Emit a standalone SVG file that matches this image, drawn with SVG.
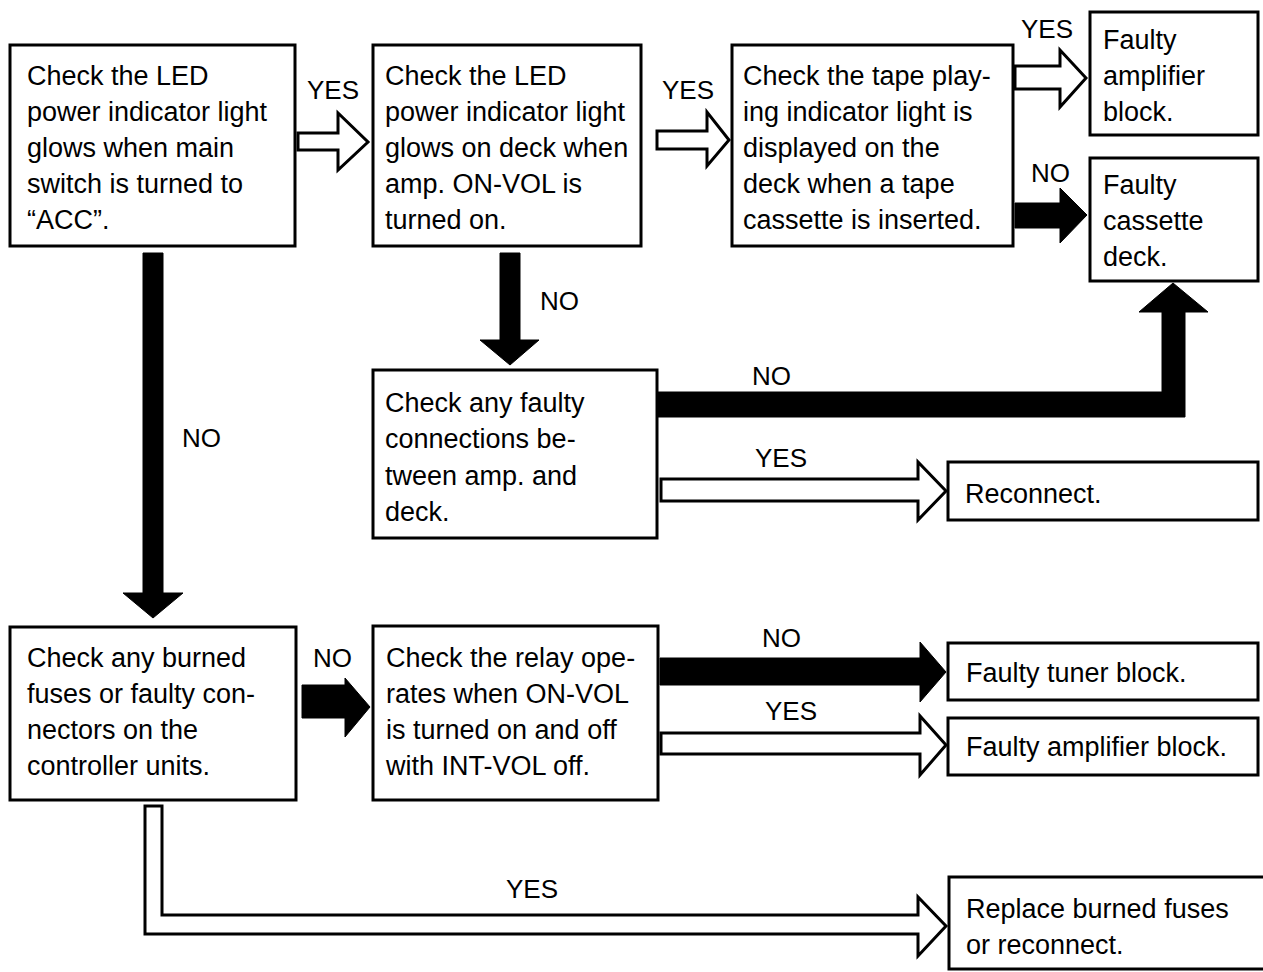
<svg xmlns="http://www.w3.org/2000/svg" width="1263" height="972" viewBox="0 0 1263 972">
<style>
.box{fill:#fff;stroke:#000;stroke-width:3}
.t{font-family:"Liberation Sans",Arial,sans-serif;font-size:27px;fill:#000}
.lbl{font-family:"Liberation Sans",Arial,sans-serif;font-size:26px;fill:#000}
.hollow{fill:#fff;stroke:#000;stroke-width:3;stroke-linejoin:miter}
.solid{fill:#000;stroke:#000;stroke-width:1}
</style>
<rect width="1263" height="972" fill="#fff"/>
<g id="connectors">
<polygon class="hollow" points="298,133 338,133 338,113 368,142 338,170 338,150 298,150"/>
<text class="lbl" x="307" y="99">YES</text>
<polygon class="hollow" points="657,131 707,131 707,112 729,140 707,166 707,149 657,149"/>
<text class="lbl" x="662" y="99">YES</text>
<polygon class="hollow" points="1015,66 1060,66 1060,50 1086,78 1060,107 1060,89 1015,89"/>
<text class="lbl" x="1021" y="38">YES</text>
<polygon class="solid" points="1015,203 1060,203 1060,188 1087,215 1060,243 1060,228 1015,228"/>
<text class="lbl" x="1031" y="182">NO</text>
<polygon class="solid" points="143,253 163,253 163,593 183,593 153,618 123,593 143,593"/>
<text class="lbl" x="182" y="447">NO</text>
<polygon class="solid" points="500,253 520,253 520,340 539,340 510,365 480,340 500,340"/>
<text class="lbl" x="540" y="310">NO</text>
<polygon class="solid" points="657,392 1162,392 1162,312 1139,312 1173,283 1208,312 1185,312 1185,417 657,417"/>
<text class="lbl" x="752" y="385">NO</text>
<polygon class="hollow" points="661,479 918,479 918,462 946,491 918,520 918,501 661,501"/>
<text class="lbl" x="755" y="467">YES</text>
<polygon class="solid" points="302,685 345,685 345,678 370,707 345,737 345,718 302,718"/>
<text class="lbl" x="313" y="667">NO</text>
<polygon class="solid" points="660,658 920,658 920,642 946,672 920,702 920,685 660,685"/>
<text class="lbl" x="762" y="647">NO</text>
<polygon class="hollow" points="661,733 920,733 920,716 946,745 920,775 920,754 661,754"/>
<text class="lbl" x="765" y="720">YES</text>
<polygon class="hollow" points="145,806 162,806 162,915 918,915 918,897 946,926 918,956 918,934 145,934"/>
<text class="lbl" x="506" y="898">YES</text>
</g>
<g id="n1">
<rect class="box" x="10" y="45" width="285" height="201"/>
<text class="t" x="27" y="85">Check the LED</text>
<text class="t" x="27" y="121">power indicator light</text>
<text class="t" x="27" y="157">glows when main</text>
<text class="t" x="27" y="193">switch is turned to</text>
<text class="t" x="27" y="229">“ACC”.</text>
</g>
<g id="n2">
<rect class="box" x="373" y="45" width="268" height="201"/>
<text class="t" x="385" y="85">Check the LED</text>
<text class="t" x="385" y="121">power indicator light</text>
<text class="t" x="385" y="157">glows on deck when</text>
<text class="t" x="385" y="193">amp. ON-VOL is</text>
<text class="t" x="385" y="229">turned on.</text>
</g>
<g id="n3">
<rect class="box" x="732" y="45" width="281" height="201"/>
<text class="t" x="743" y="85">Check the tape play-</text>
<text class="t" x="743" y="121">ing indicator light is</text>
<text class="t" x="743" y="157">displayed on the</text>
<text class="t" x="743" y="193">deck when a tape</text>
<text class="t" x="743" y="229">cassette is inserted.</text>
</g>
<g id="n4">
<rect class="box" x="1090" y="12" width="168" height="123"/>
<text class="t" x="1103" y="49">Faulty</text>
<text class="t" x="1103" y="85">amplifier</text>
<text class="t" x="1103" y="121">block.</text>
</g>
<g id="n5">
<rect class="box" x="1090" y="158" width="168" height="123"/>
<text class="t" x="1103" y="194">Faulty</text>
<text class="t" x="1103" y="230">cassette</text>
<text class="t" x="1103" y="266">deck.</text>
</g>
<g id="n6">
<rect class="box" x="373" y="370" width="284" height="168"/>
<text class="t" x="385" y="412">Check any faulty</text>
<text class="t" x="385" y="448">connections be-</text>
<text class="t" x="385" y="485">tween amp. and</text>
<text class="t" x="385" y="521">deck.</text>
</g>
<g id="n7">
<rect class="box" x="948" y="462" width="310" height="58"/>
<text class="t" x="965" y="503">Reconnect.</text>
</g>
<g id="n8">
<rect class="box" x="10" y="627" width="286" height="173"/>
<text class="t" x="27" y="667">Check any burned</text>
<text class="t" x="27" y="703">fuses or faulty con-</text>
<text class="t" x="27" y="739">nectors on the</text>
<text class="t" x="27" y="775">controller units.</text>
</g>
<g id="n9">
<rect class="box" x="373" y="626" width="285" height="174"/>
<text class="t" x="386" y="667">Check the relay ope-</text>
<text class="t" x="386" y="703">rates when ON-VOL</text>
<text class="t" x="386" y="739">is turned on and off</text>
<text class="t" x="386" y="775">with INT-VOL off.</text>
</g>
<g id="n10">
<rect class="box" x="948" y="643" width="310" height="57"/>
<text class="t" x="966" y="682">Faulty tuner block.</text>
</g>
<g id="n11">
<rect class="box" x="948" y="718" width="310" height="57"/>
<text class="t" x="966" y="756">Faulty amplifier block.</text>
</g>
<g id="n12">
<rect class="box" x="949" y="877" width="330" height="92"/>
<text class="t" x="966" y="918">Replace burned fuses</text>
<text class="t" x="966" y="954">or reconnect.</text>
</g>
</svg>
